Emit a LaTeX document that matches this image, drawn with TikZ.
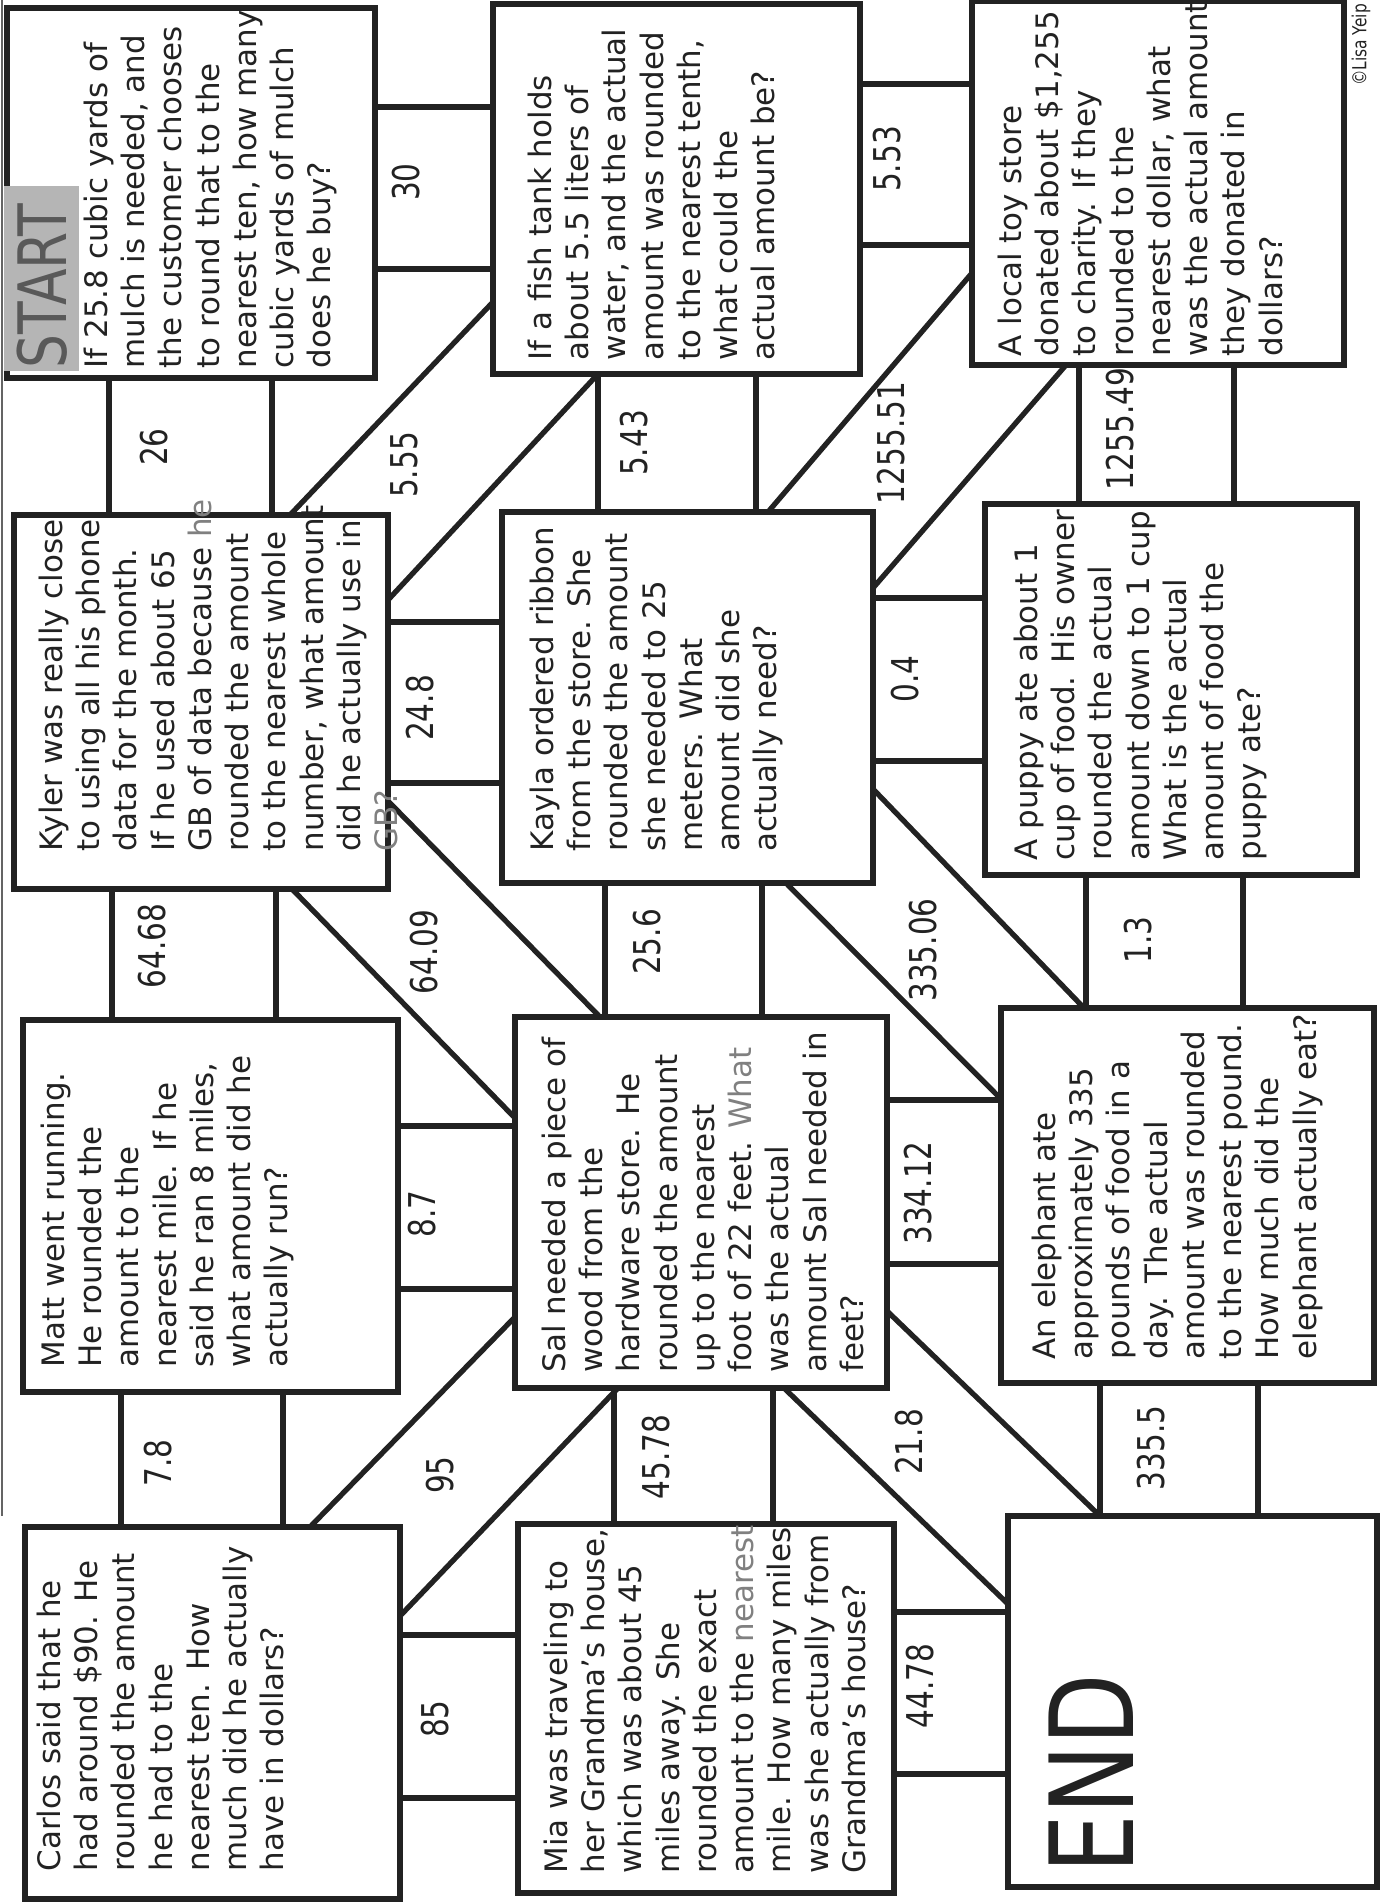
\documentclass[tikz,border=0pt]{standalone}
\usepackage{fontspec}
\setmainfont{DejaVu Sans}
\newfontfamily\narrowfont{DejaVu Sans}[FakeStretch=0.8]
\usetikzlibrary{fit}
\definecolor{tinta}{HTML}{222222}
\definecolor{grisStart}{HTML}{B5B5B5}
\definecolor{grisTexto}{HTML}{808080}

\begin{document}
\begin{tikzpicture}[x=0.01cm,y=-0.01cm,
    qbox/.style={draw=tinta,line width=1.5pt,inner sep=0pt,outer sep=0pt},
    bridge/.style={draw=tinta,line width=1.5pt},
    qtext/.style={rotate=90,anchor=north west,align=left,inner sep=0pt,text=tinta,
      font=\fontsize{8.8}{10.6}\selectfont},
    val/.style={rotate=90,inner sep=0pt,text=tinta,font=\narrowfont\fontsize{10.5}{12}\selectfont}]
  \useasboundingbox (0,0) rectangle (1392,1902);

  % edge of the scanned page
  \draw[tinta!70,line width=0.6pt] (2,0) -- (2,1516);

  % question boxes
  \node[qbox,fit={(7,8) (375,378)}] (start) {};
  \node[qbox,fit={(493,4) (860,374)}] (fish) {};
  \node[qbox,fit={(972,1) (1344,365)}] (toy) {};
  \node[qbox,fit={(14,515) (388,889)}] (kyler) {};
  \node[qbox,fit={(502,512) (873,883)}] (kayla) {};
  \node[qbox,fit={(985,504) (1357,875)}] (puppy) {};
  \node[qbox,fit={(23,1020) (398,1392)}] (matt) {};
  \node[qbox,fit={(515,1017) (887,1388)}] (sal) {};
  \node[qbox,fit={(1001,1008) (1374,1383)}] (eleph) {};
  \node[qbox,fit={(25,1527) (400,1899)}] (carlos) {};
  \node[qbox,fit={(518,1524) (894,1893)}] (mia) {};
  \node[qbox,fit={(1008,1516) (1377,1887)}] (endbox) {};

  % straight bridges
  \foreach \yy in {107,269} \draw[bridge] (start.east |- 0,\yy) -- (fish.west |- 0,\yy);
  \foreach \yy in {84,245} \draw[bridge] (fish.east |- 0,\yy) -- (toy.west |- 0,\yy);
  \foreach \yy in {622,783} \draw[bridge] (kyler.east |- 0,\yy) -- (kayla.west |- 0,\yy);
  \foreach \yy in {598,761} \draw[bridge] (kayla.east |- 0,\yy) -- (puppy.west |- 0,\yy);
  \foreach \yy in {1126,1289} \draw[bridge] (matt.east |- 0,\yy) -- (sal.west |- 0,\yy);
  \foreach \yy in {1100,1264} \draw[bridge] (sal.east |- 0,\yy) -- (eleph.west |- 0,\yy);
  \foreach \yy in {1635,1798} \draw[bridge] (carlos.east |- 0,\yy) -- (mia.west |- 0,\yy);
  \foreach \yy in {1612,1774} \draw[bridge] (mia.east |- 0,\yy) -- (endbox.west |- 0,\yy);
  \foreach \xx in {109,272} \draw[bridge] (start.south -| \xx,0) -- (kyler.north -| \xx,0);
  \foreach \xx in {598,756} \draw[bridge] (fish.south -| \xx,0) -- (kayla.north -| \xx,0);
  \foreach \xx in {1079,1234} \draw[bridge] (toy.south -| \xx,0) -- (puppy.north -| \xx,0);
  \foreach \xx in {112,276} \draw[bridge] (kyler.south -| \xx,0) -- (matt.north -| \xx,0);
  \foreach \xx in {605,762} \draw[bridge] (kayla.south -| \xx,0) -- (sal.north -| \xx,0);
  \foreach \xx in {1086,1243} \draw[bridge] (puppy.south -| \xx,0) -- (eleph.north -| \xx,0);
  \foreach \xx in {121,283} \draw[bridge] (matt.south -| \xx,0) -- (carlos.north -| \xx,0);
  \foreach \xx in {614,773} \draw[bridge] (sal.south -| \xx,0) -- (mia.north -| \xx,0);
  \foreach \xx in {1100,1258} \draw[bridge] (eleph.south -| \xx,0) -- (endbox.north -| \xx,0);

  % slanted bridges
  \draw[bridge] (kyler.north -| 290,0) -- (fish.west |- 0,302);
  \draw[bridge] (kyler.east |- 0,600) -- (fish.south -| 598,0);
  \draw[bridge] (kayla.north -| 768,0) -- (toy.west |- 0,273);
  \draw[bridge] (kayla.east |- 0,588) -- (toy.south -| 1066,0);
  \draw[bridge] (kyler.south -| 292,0) -- (sal.west |- 0,1118);
  \draw[bridge] (kyler.east |- 0,801) -- (sal.north -| 600,0);
  \draw[bridge] (kayla.south -| 786,0) -- (eleph.west |- 0,1099);
  \draw[bridge] (kayla.east |- 0,789) -- (eleph.north -| 1084,0);
  \draw[bridge] (carlos.north -| 310,0) -- (sal.west |- 0,1317);
  \draw[bridge] (carlos.east |- 0,1616) -- (sal.south -| 618,0);
  \draw[bridge] (sal.south -| 784,0) -- (endbox.west |- 0,1604);
  \draw[bridge] (sal.east |- 0,1311) -- (endbox.north -| 1100,0);

  % answers on the bridges
  \node[val] (v30) at (406,182) {30};
  \node[val] (v553) at (887,159) {5.53};
  \node[val] (v26) at (154,447) {26};
  \node[val] (v543) at (634,443) {5.43};
  \node[val] (v125549) at (1120,429) {1255.49};
  \node[val] (v555) at (404,465) {5.55};
  \node[val] (v125551) at (891,443) {1255.51};
  \node[val] (v248) at (420,708) {24.8};
  \node[val] (v04) at (905,679) {0.4};
  \node[val] (v6468) at (152,946) {64.68};
  \node[val] (v6409) at (424,952) {64.09};
  \node[val] (v256) at (647,942) {25.6};
  \node[val] (v33506) at (923,950) {335.06};
  \node[val] (v13) at (1138,940) {1.3};
  \node[val] (v87) at (422,1214) {8.7};
  \node[val] (v33412) at (918,1193) {334.12};
  \node[val] (v78) at (158,1463) {7.8};
  \node[val] (v95) at (440,1475) {95};
  \node[val] (v4578) at (656,1457) {45.78};
  \node[val] (v218) at (909,1442) {21.8};
  \node[val] (v3355) at (1151,1448) {335.5};
  \node[val] (v85) at (435,1719) {85};
  \node[val] (v4478) at (920,1686) {44.78};

  % start and end
  \node[fill=grisStart,inner sep=0pt,fit={(4,186) (79,371)}] (startbg) {};
  \node[rotate=90,anchor=base west,inner sep=0pt,text=tinta!75,font=\narrowfont\fontsize{19}{20}\selectfont]
    (starttxt) at (67,369) {START};
  \node[rotate=90,anchor=base west,inner sep=0pt,text=tinta,font=\narrowfont\fontsize{33}{36}\selectfont]
    (endtxt) at (1133,1874) {END};
  \node[rotate=90,inner sep=0pt,text=tinta,font=\narrowfont\fontsize{5.5}{6}\selectfont]
    (autor) at (1361,45) {©Lisa Yeip};

  % questions
  \node[qtext] (startq) at (83,369)
    {If 25.8 cubic yards of\\mulch is needed, and\\the customer chooses\\to round that to the\\nearest ten, how many\\cubic yards of mulch\\does he buy?};
  \node[qtext] (fishq) at (527,361)
    {If a fish tank holds\\about 5.5 liters of\\water, and the actual\\amount was rounded\\to the nearest tenth,\\what could the\\actual amount be?};
  \node[qtext] (toyq) at (997,357)
    {A local toy store\\donated about \$1,255\\to charity.  If they\\rounded to the\\nearest dollar, what\\was the actual amount\\they donated in\\dollars?};
  \node[qtext] (kylerq) at (38,852)
    {Kyler was really close\\to using all his phone\\data for the month.\\If he used about 65\\GB of data because \textcolor{grisTexto}{he}\\rounded the amount\\to the nearest whole\\number, what amount\\did he actually use in\\\textcolor{grisTexto}{GB?}};
  \node[qtext] (kaylaq) at (529,852)
    {Kayla ordered ribbon\\from the store.  She\\rounded the amount\\she needed to 25\\meters.  What\\amount did she\\actually need?};
  \node[qtext] (puppyq) at (1013,861)
    {A puppy ate about 1\\cup of food.  His owner\\rounded the actual\\amount down to 1 cup.\\What is the actual\\amount of food the\\puppy ate?};
  \node[qtext] (mattq) at (40,1368)
    {Matt went running.\\He rounded the\\amount to the\\nearest mile.  If he\\said he ran 8 miles,\\what amount did he\\actually run?};
  \node[qtext] (salq) at (541,1373)
    {Sal needed a piece of\\wood from the\\hardware store. He\\rounded the amount\\up to the nearest\\foot of 22 feet.  \textcolor{grisTexto}{What}\\was the actual\\amount Sal needed in\\feet?};
  \node[qtext] (elephq) at (1031,1360)
    {An elephant ate\\approximately 335\\pounds of food in a\\day.  The actual\\amount was rounded\\to the nearest pound.\\How much did the\\elephant actually eat?};
  \node[qtext] (carlosq) at (36,1872)
    {Carlos said that he\\had around \$90.  He\\rounded the amount\\he had to the\\nearest ten.  How\\much did he actually\\have in dollars?};
  \node[qtext] (miaq) at (543,1874)
    {Mia was traveling to\\her Grandma's house,\\which was about 45\\miles away.  She\\rounded the exact\\amount to the \textcolor{grisTexto}{nearest}\\mile.  How many miles\\was she actually from\\Grandma's house?};
\end{tikzpicture}
\end{document}
